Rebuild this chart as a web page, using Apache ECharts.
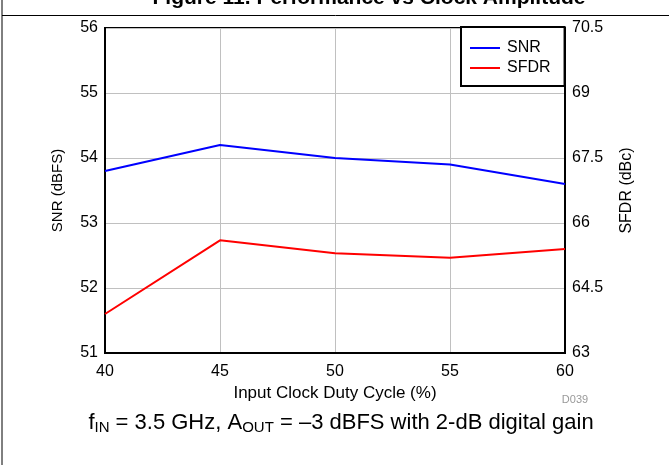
<!DOCTYPE html>
<html>
<head>
<meta charset="utf-8">
<script src="https://cdn.jsdelivr.net/npm/echarts@6/dist/echarts.min.js"></script>
<style>html,body{margin:0;padding:0;background:#fff}#c{width:669px;height:465px}</style>
</head>
<body>
<div id="c"></div>
<script>
var dutyCycle = [40, 45, 50, 55, 60];
var snr = [53.8, 54.2, 54.0, 53.9, 53.6];
var sfdr = [63.9, 65.6, 65.3, 65.2, 65.4];
var seriesNames = ['SNR', 'SFDR'];
var F = '"Liberation Sans", Arial, sans-serif';

var chart = echarts.init(document.getElementById('c'));
chart.setOption({
  animation: false,
  backgroundColor: '#fff',
  grid: {left: 105, right: 104, top: 28, bottom: 112, show: true, borderColor: '#000', borderWidth: 2, backgroundColor: 'transparent'},
  legend: {
    left: 461, top: 27, orient: 'vertical',
    data: seriesNames,
    icon: 'rect',
    backgroundColor: '#fff', borderColor: '#000', borderWidth: 2,
    padding: [13, 14, 10, 9],
    itemWidth: 30, itemHeight: 2, itemGap: 4,
    textStyle: {fontFamily: F, fontSize: 16, color: '#000', padding: [0, 0, 0, 2]}
  },
  xAxis: {
    type: 'value', min: 40, max: 60, interval: 5,
    name: 'Input Clock Duty Cycle (%)', nameLocation: 'middle', nameGap: 32,
    nameTextStyle: {fontFamily: F, fontSize: 17, color: '#000'},
    axisLine: {lineStyle: {color: '#000', width: 2}},
    axisTick: {show: false},
    axisLabel: {fontFamily: F, fontSize: 16, color: '#000', margin: 11},
    splitLine: {lineStyle: {color: '#c0c0c0', width: 1}}
  },
  yAxis: [{
    type: 'value', min: 51, max: 56, interval: 1, position: 'left',
    name: 'SNR (dBFS)', nameLocation: 'middle', nameGap: 40, nameRotate: 90,
    nameTextStyle: {fontFamily: F, fontSize: 15, color: '#000'},
    axisLine: {show: true, lineStyle: {color: '#000', width: 2}},
    axisTick: {show: false},
    axisLabel: {fontFamily: F, fontSize: 16, color: '#000', margin: 7},
    splitLine: {lineStyle: {color: '#c0c0c0', width: 1}}
  }, {
    type: 'value', min: 63, max: 70.5, interval: 1.5, position: 'right',
    name: 'SFDR (dBc)', nameLocation: 'middle', nameGap: 54, nameRotate: 90,
    nameTextStyle: {fontFamily: F, fontSize: 16, color: '#000'},
    axisLine: {show: true, lineStyle: {color: '#000', width: 2}},
    axisTick: {show: false},
    axisLabel: {fontFamily: F, fontSize: 16, color: '#000', margin: 7},
    splitLine: {show: false}
  }],
  series: [{
    name: seriesNames[0], type: 'line', yAxisIndex: 0, symbol: 'none',
    data: dutyCycle.map(function (x, i) { return [x, snr[i]]; }),
    lineStyle: {color: '#0000ff', width: 2}, itemStyle: {color: '#0000ff'}
  }, {
    name: seriesNames[1], type: 'line', yAxisIndex: 1, symbol: 'none',
    data: dutyCycle.map(function (x, i) { return [x, sfdr[i]]; }),
    lineStyle: {color: '#ff0000', width: 2}, itemStyle: {color: '#ff0000'}
  }],
  graphic: [
    {type: 'line', shape: {x1: 2, y1: 0, x2: 2, y2: 465}, style: {stroke: '#000', lineWidth: 1}},
    {type: 'line', shape: {x1: 2, y1: 15.5, x2: 669, y2: 15.5}, style: {stroke: '#000', lineWidth: 1}},
    {type: 'text', x: 369, y: 9, style: {text: 'Figure 11. Performance vs Clock Amplitude', font: 'bold 21px ' + F, fill: '#000', textAlign: 'center', textVerticalAlign: 'bottom'}},
    {type: 'text', x: 575, y: 400, style: {text: 'D039', font: '11px ' + F, fill: '#999', textAlign: 'center', textVerticalAlign: 'middle'}},
    {type: 'text', x: 341, y: 423, style: {
      text: '{n|f}{s|IN}{n| = 3.5 GHz, A}{s|OUT}{n| = \u20133 dBFS with 2-dB digital gain}',
      textAlign: 'center', textVerticalAlign: 'middle',
      rich: {
        n: {fontFamily: F, fontSize: 22, fill: '#000', color: '#000'},
        s: {fontFamily: F, fontSize: 15, fill: '#000', color: '#000', padding: [10, 0, 0, 0]}
      }
    }}
  ]
});
</script>
</body>
</html>
